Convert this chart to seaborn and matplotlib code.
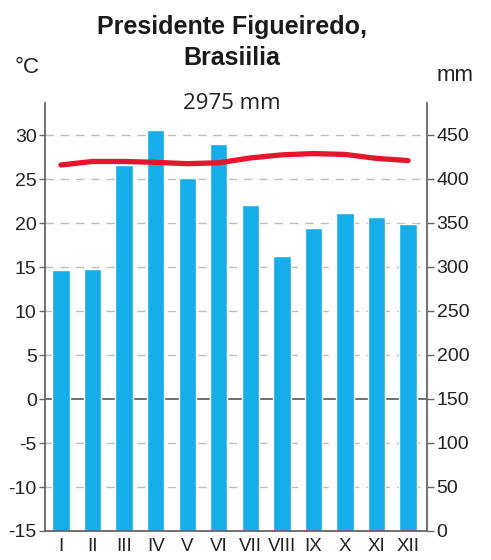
import numpy as np
import matplotlib
matplotlib.use("Agg")
import matplotlib.pyplot as plt
import seaborn as sns

# data
months = ["I", "II", "III", "IV", "V", "VI", "VII", "VIII", "IX", "X", "XI", "XII"]
precip_mm = [296, 298, 416, 455, 401, 440, 370, 312, 344, 361, 357, 349]
temp_c = [26.6, 27.0, 27.0, 26.9, 26.75, 26.85, 27.4, 27.75, 27.9, 27.8, 27.35, 27.1]
total_label = "2975 mm"
title_1 = "Presidente Figueiredo,"
title_2 = "Brasiilia"

sns.set_style("white")
plt.rcParams["font.family"] = ["Liberation Sans", "DejaVu Sans"]
plt.rcParams["axes.unicode_minus"] = False

BLUE = "#15aee9"
RED = "#e8142c"
AXC = "#666666"

fig = plt.figure(figsize=(4.91, 5.6), dpi=100)
ax = fig.add_axes([0.0916, 0.0518, 0.778, 0.7642])
ax2 = ax.twinx()

# bars (mm) on the right axis, with the grid behind them
sns.barplot(x=months, y=precip_mm, ax=ax2, color=BLUE, width=0.55,
            saturation=1, zorder=2)
ax2.set_ylim(0, 486)
ax2.set_yticks(np.arange(0, 451, 50))
ax2.set_axisbelow(True)
for v in np.arange(0, 451, 50):
    if v == 150:
        ax2.axhline(v, color="#555555", lw=1.2, zorder=1)
    elif v > 0:
        ax2.axhline(v, color="#bdbdbd", lw=1, ls=(0, (6, 5)), zorder=1)

# temperature line on the left axis, drawn on top
ax.set_zorder(ax2.get_zorder() + 1)
ax.patch.set_visible(False)
sns.lineplot(x=np.arange(len(months)), y=temp_c, ax=ax, color=RED, lw=3.8,
             solid_capstyle="round", solid_joinstyle="round")
ax.set_ylim(-15, 33.64)
ax.set_yticks(np.arange(-15, 31, 5))
ax.set_xlim(-0.507, 11.6)
ax.set_xticks(np.arange(len(months)))
ax.set_xticklabels(months)

for a in (ax, ax2):
    a.set_xlabel("")
    a.set_ylabel("")
    for s in a.spines.values():
        s.set_visible(False)
ax.spines["left"].set_visible(True)
ax.spines["bottom"].set_visible(True)
ax2.spines["right"].set_visible(True)
for s in (ax.spines["left"], ax.spines["bottom"], ax2.spines["right"]):
    s.set_color(AXC)
    s.set_linewidth(1.3)

ax.tick_params(axis="y", length=4, width=1, color=AXC, pad=2,
               labelsize=14, labelcolor="#222222", left=True)
ax.tick_params(axis="x", length=0, pad=5, labelsize=13.5, labelcolor="#222222")
ax2.tick_params(axis="y", length=5, width=1, color=AXC, pad=2,
                labelsize=14, labelcolor="#222222", right=True)

fig.text(0.4725, 0.952, title_1, ha="center", va="center", fontsize=18,
         fontweight="bold", color="#1a1a1a")
fig.text(0.4725, 0.896, title_2, ha="center", va="center", fontsize=18,
         fontweight="bold", color="#1a1a1a")
fig.text(0.055, 0.879, "°C", ha="center", va="center", fontsize=16, color="#222222")
fig.text(0.927, 0.866, "mm", ha="center", va="center", fontsize=16, color="#222222")
fig.text(0.4725, 0.816, total_label, ha="center", va="center", fontsize=16,
         family="Open Sans", color="#222222")

fig.savefig("out.png", dpi=100, facecolor="white")
